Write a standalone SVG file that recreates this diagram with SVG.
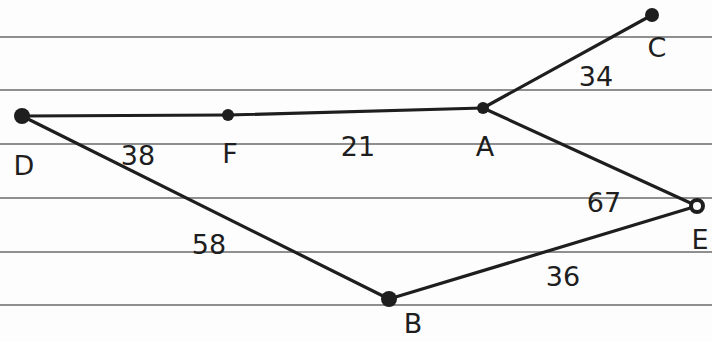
<svg xmlns="http://www.w3.org/2000/svg" width="712" height="341" viewBox="0 0 712 341">
<style>
.rule{stroke:#6a6a6a;stroke-width:1.6}
.edge{stroke:#1e1e1e;stroke-width:3.2;stroke-linecap:round;fill:none}
.dot{fill:#1e1e1e}
.t{font-family:"DejaVu Sans","Liberation Sans",sans-serif;font-size:27px;fill:#1e1e1e}
</style>
<rect width="712" height="341" fill="#fdfdfd"/>
<g id="paper">
<line class="rule" x1="0" y1="37" x2="712" y2="37"/>
<line class="rule" x1="0" y1="90" x2="712" y2="90"/>
<line class="rule" x1="0" y1="144" x2="712" y2="144"/>
<line class="rule" x1="0" y1="198" x2="712" y2="198"/>
<line class="rule" x1="0" y1="252" x2="712" y2="252"/>
<line class="rule" x1="0" y1="305" x2="712" y2="305"/>
</g>
<g id="connectors">
<line class="edge" x1="22" y1="116" x2="228" y2="115"/>
<text class="t" x="138" y="165" text-anchor="middle">38</text>
<line class="edge" x1="228" y1="115" x2="483" y2="108"/>
<text class="t" x="358" y="156" text-anchor="middle">21</text>
<line class="edge" x1="483" y1="108" x2="652" y2="15"/>
<text class="t" x="596" y="86" text-anchor="middle">34</text>
<line class="edge" x1="483" y1="108" x2="697" y2="206"/>
<text class="t" x="604" y="212" text-anchor="middle">67</text>
<line class="edge" x1="22" y1="116" x2="389" y2="299"/>
<text class="t" x="209" y="254" text-anchor="middle">58</text>
<line class="edge" x1="389" y1="299" x2="697" y2="206"/>
<text class="t" x="563" y="286" text-anchor="middle">36</text>
</g>
<g id="node-D"><circle class="dot" cx="22" cy="116" r="8"/><text class="t" x="24" y="175" text-anchor="middle">D</text></g>
<g id="node-F"><circle class="dot" cx="228" cy="115" r="6"/><text class="t" x="230" y="163" text-anchor="middle">F</text></g>
<g id="node-A"><circle class="dot" cx="483" cy="108" r="6"/><text class="t" x="485" y="156" text-anchor="middle">A</text></g>
<g id="node-C"><circle class="dot" cx="652" cy="15" r="7"/><text class="t" x="657" y="57" text-anchor="middle">C</text></g>
<g id="node-E"><circle cx="697" cy="206" r="6" fill="#fdfdfd" stroke="#1e1e1e" stroke-width="4"/><text class="t" x="700" y="249" text-anchor="middle">E</text></g>
<g id="node-B"><circle class="dot" cx="389" cy="299" r="8"/><text class="t" x="413" y="333" text-anchor="middle">B</text></g>
</svg>
